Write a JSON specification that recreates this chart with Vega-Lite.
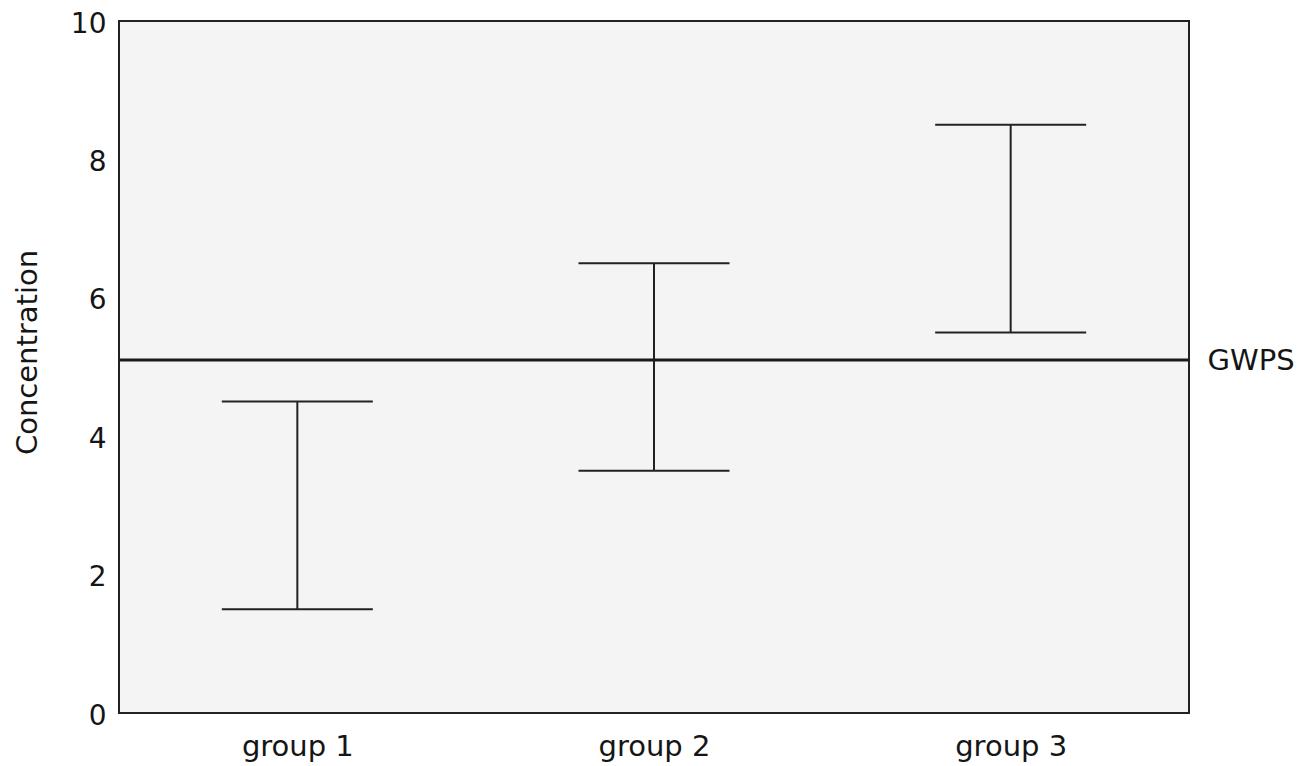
{
  "$schema": "https://vega.github.io/schema/vega-lite/v6.json",
  "width": 1070,
  "height": 692,
  "autosize": {"type": "none"},
  "padding": {"left": 119, "top": 21, "right": 119, "bottom": 53},
  "background": "#ffffff",
  "config": {
    "view": {"fill": "#f4f4f4", "stroke": "#222222", "strokeWidth": 2},
    "axis": {
      "labelFont": "DejaVu Sans",
      "titleFont": "DejaVu Sans",
      "labelColor": "#151515",
      "titleColor": "#151515",
      "grid": false,
      "ticks": false,
      "domain": false
    }
  },
  "datasets": {
    "ranges": [
      {"group": "group 1", "low": 1.5, "high": 4.5},
      {"group": "group 2", "low": 3.5, "high": 6.5},
      {"group": "group 3", "low": 5.5, "high": 8.5}
    ],
    "standard": [
      {"label": "GWPS", "value": 5.1}
    ]
  },
  "layer": [
    {
      "data": {"name": "ranges"},
      "mark": {"type": "rule", "color": "#222222", "strokeWidth": 2},
      "encoding": {
        "x": {
          "field": "group",
          "type": "nominal",
          "scale": {"type": "point", "padding": 0.5},
          "axis": {"title": null, "labelAngle": 0, "labelFontSize": 29, "labelPadding": 19}
        },
        "y": {
          "field": "low",
          "type": "quantitative",
          "scale": {"domain": [0, 10], "nice": false, "zero": true},
          "axis": {
            "values": [0, 2, 4, 6, 8, 10],
            "title": "Concentration",
            "titleFontSize": 29,
            "titleFontWeight": "normal",
            "titleAngle": -90,
            "titleX": -92,
            "titleY": 331,
            "titleAlign": "center",
            "titleBaseline": "middle",
            "labelFontSize": 28,
            "labelPadding": 13,
            "labelOffset": 3
          }
        },
        "y2": {"field": "high"}
      }
    },
    {
      "data": {"name": "ranges"},
      "mark": {"type": "tick", "color": "#222222", "opacity": 1, "size": 151, "thickness": 2, "orient": "horizontal"},
      "encoding": {
        "x": {"field": "group", "type": "nominal"},
        "y": {"field": "low", "type": "quantitative", "axis": null}
      }
    },
    {
      "data": {"name": "ranges"},
      "mark": {"type": "tick", "color": "#222222", "opacity": 1, "size": 151, "thickness": 2, "orient": "horizontal"},
      "encoding": {
        "x": {"field": "group", "type": "nominal"},
        "y": {"field": "high", "type": "quantitative", "axis": null}
      }
    },
    {
      "data": {"name": "standard"},
      "mark": {"type": "rule", "color": "#1a1a1a", "strokeWidth": 3},
      "encoding": {
        "y": {
          "field": "value",
          "type": "quantitative",
          "axis": {
            "orient": "right",
            "values": [5.1],
            "labelExpr": "'GWPS'",
            "title": null,
            "labelFontSize": 29,
            "labelPadding": 18
          }
        }
      }
    }
  ],
  "resolve": {"axis": {"y": "independent"}}
}
